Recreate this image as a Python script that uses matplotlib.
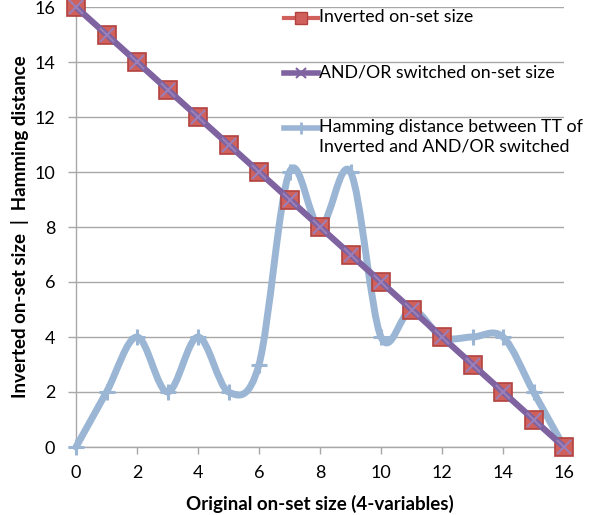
import matplotlib
matplotlib.use("Agg")
import matplotlib.pyplot as plt
from matplotlib.path import Path
from matplotlib.patches import PathPatch
from matplotlib.lines import Line2D
import numpy as np

plt.rcParams['font.family'] = ['Lato', 'DejaVu Sans']

# ---- data ----
x_vals = list(range(0, 17))
inverted = [16, 15, 14, 13, 12, 11, 10, 9, 8, 7, 6, 5, 4, 3, 2, 1, 0]
andor = [16, 15, 14, 13, 12, 11, 10, 9, 8, 7, 6, 5, 4, 3, 2, 1, 0]
hamming = [0, 2, 4, 2, 4, 2, 3, 10, 8, 10, 4, 5, 4, 4, 4, 2, 0]
x_ticks = [0, 2, 4, 6, 8, 10, 12, 14, 16]
y_ticks = [0, 2, 4, 6, 8, 10, 12, 14, 16]
labels = ["Inverted on-set size", "AND/OR switched on-set size",
          "Hamming distance between TT of\nInverted and AND/OR switched"]

RED_FACE = '#d0605c'
RED_EDGE = '#b3423f'
PURPLE = '#7f63a1'
BLUE = '#9bb6d5'
GRID = '#a8a8a8'

W, H = 595, 515
fig = plt.figure(figsize=(W / 100, H / 100), dpi=100)
ax = fig.add_axes([76 / W, (H - 447) / H, (564 - 76) / W, (447 - 7) / H])
ax.set_xlim(0, 16)
ax.set_ylim(0, 16)

# smooth (Excel-like) curve for hamming distance
def smooth_path(xs, ys):
    pts = np.column_stack([xs, ys]).astype(float)
    n = len(pts)
    verts = [pts[0]]
    codes = [Path.MOVETO]
    for i in range(n - 1):
        p0 = pts[i - 1] if i > 0 else pts[i]
        p1 = pts[i]
        p2 = pts[i + 1]
        p3 = pts[i + 2] if i + 2 < n else pts[i + 1]
        c1 = p1 + (p2 - p0) / 6.0
        c2 = p2 - (p3 - p1) / 6.0
        verts += [c1, c2, p2]
        codes += [Path.CURVE4] * 3
    return Path(verts, codes)

patch = PathPatch(smooth_path(x_vals, hamming), facecolor='none', edgecolor=BLUE,
                  lw=5, capstyle='round', joinstyle='round', zorder=3, clip_on=False)
ax.add_patch(patch)
ax.plot(x_vals, hamming, linestyle='none', marker='+', ms=11, mew=2.2,
        color=BLUE, zorder=3, clip_on=False)

ax.plot(x_vals, inverted, color=RED_FACE, lw=3, marker='s', ms=13,
        mfc=RED_FACE, mec=RED_EDGE, mew=1.2, zorder=4, clip_on=False)
ax.plot(x_vals, andor, color=PURPLE, lw=4.5, marker='x', ms=10, mew=1.5,
        mec='#9a7fb8', zorder=5, clip_on=False, solid_capstyle='butt')

ax.set_xticks(x_ticks)
ax.set_yticks(y_ticks)
ax.tick_params(axis='both', labelsize=13, colors='#000000')
ax.tick_params(axis='x', length=5, width=1, color=GRID, pad=8)
ax.tick_params(axis='y', length=6, width=1, color=GRID, pad=9)
ax.grid(axis='y', color=GRID, lw=1)
ax.set_axisbelow(True)
for s in ['top', 'right']:
    ax.spines[s].set_visible(False)
for s in ['left', 'bottom']:
    ax.spines[s].set_color(GRID)
    ax.spines[s].set_linewidth(1)

ax.set_xlabel("Original on-set size (4-variables)", fontsize=13.5, fontweight='bold', labelpad=10)
ax.set_ylabel("Inverted on-set size  |  Hamming distance", fontsize=13.5, fontweight='bold', labelpad=4)

# manual legend
def fx(px):
    return px / W

def fy(py):
    return (H - py) / H

leg_y = [18, 73, 128]
styles = [
    dict(color=RED_FACE, lw=3, marker='s', ms=9, mfc=RED_FACE, mec=RED_EDGE, mew=1),
    dict(color=PURPLE, lw=4, marker='x', ms=7, mew=1.5),
    dict(color=BLUE, lw=4, marker='+', ms=9, mew=2),
]
for yy, st, lab in zip(leg_y, styles, labels):
    ln2 = Line2D([fx(284), fx(301), fx(318)], [fy(yy)] * 3, transform=fig.transFigure,
                 markevery=[1], **st)
    fig.add_artist(ln2)
    fig.text(fx(319), fy(yy - 9), lab, fontsize=12.8, va='top', ha='left',
             linespacing=1.28)

fig.savefig("out.png", dpi=100)
